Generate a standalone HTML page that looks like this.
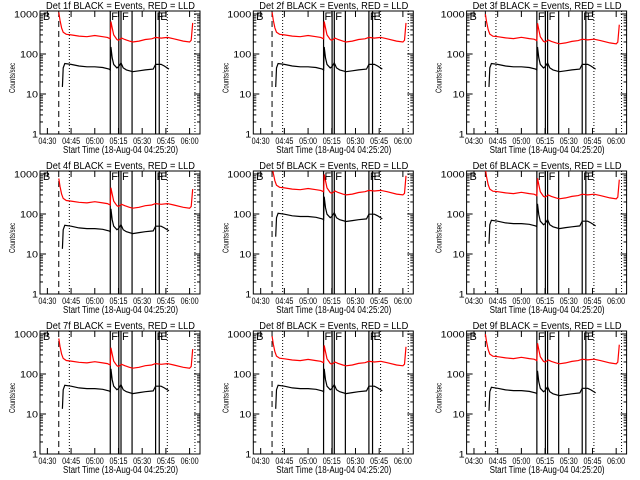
<!DOCTYPE html>
<html><head><meta charset="utf-8"><style>
html,body{margin:0;padding:0;background:#fff;width:640px;height:480px;overflow:hidden}
svg text{font-family:"Liberation Sans",sans-serif;fill:#000}
</style></head><body>
<svg id="root" width="640" height="480" xmlns="http://www.w3.org/2000/svg"></svg>
<script>
// Data (minutes after 04:00, counts/sec)
const detectors = ["1f","2f","3f","4f","5f","6f","7f","8f","9f"];
const redScale = [1.0,1.0,0.9,0.7,1.5,1.2,0.7,0.8,0.9];
const blackScale = [1.0,1.0,1.0,0.9,1.8,1.2,0.9,0.9,0.8];
const redTimes = [37.2,38,39,40,42,45,50,55,60,65,68,69.8,70.2,71,72,74,75,77,79,82,84,88,92,96,98.5,102,106,110,116,120,121,122];
const redValues = [1100,700,450,350,310,300,280,270,290,270,260,240,650,450,300,230,220,250,230,210,200,210,230,240,260,250,260,240,210,200,220,600];
const blackTimes = [39.5,40,41,45,50,55,60,65,69,69.8,70.2,71,72,74,75,76.6,78,80,84,88,92,97,98.5,102,104,107];
const blackValues = [15,45,58,55,50,48,48,46,42,40,150,80,55,45,48,60,45,40,36,38,40,42,55,55,50,42];
const solidLines = [69.8,75.2,76.6,83.6,98.5,100.8];
const dashedLines = [37.2];
const dottedLines = [43.9,105.9,123.4];
const flagLabels = [["B",26.5],["F",69.8],["F",76.6],["F",98.5],["E",100.8]];
const timeTicks = [30,45,60,75,90,105,120];
const timeTickLabels = ["04:30","04:45","05:00","05:15","05:30","05:45","06:00"];
const yTicks = [1,10,100,1000];
const yTickLabels = ["1","10","100","1000"];

const NS="http://www.w3.org/2000/svg";
const root=document.getElementById('root');
function mk(tag,attrs,parent){const e=document.createElementNS(NS,tag);for(const k in attrs)e.setAttribute(k,attrs[k]);parent.appendChild(e);return e;}
const L=40,R=200,T=11,B=134;
function xs(m){return L+(m-25.33)*1.58;}
function ys(v){return B-Math.log10(v)*40;}

detectors.forEach((d,i)=>{
  const ox=(i%3)*213.3, oy=Math.floor(i/3)*160;
  const g=mk('g',{transform:`translate(${ox},${oy})`},root);
  
  
  const cp=mk('clipPath',{id:'c'+i},g);mk('rect',{x:L,y:T,width:R-L,height:B-T},cp);
  const t=mk('text',{x:46,y:9,'font-size':'10',textLength:149,lengthAdjust:'spacingAndGlyphs'},g);t.textContent=`Det ${d} BLACK = Events, RED = LLD`;
  
  
  const fr=mk('rect',{x:L,y:T,width:R-L,height:B-T,fill:'none',stroke:'#000','stroke-width':1},g);
  
  
  yTicks.forEach((v,j)=>{
    const y=ys(v);
    mk('line',{x1:L,x2:L+6,y1:y,y2:y,stroke:'#000'},g);mk('line',{x1:R-6,x2:R,y1:y,y2:y,stroke:'#000'},g);
    const tl=mk('text',{x:L-2,y:y+3.5,'font-size':'9','text-anchor':'end',textLength:yTickLabels[j].length*6,lengthAdjust:'spacingAndGlyphs'},g);tl.textContent=yTickLabels[j];
    
    
    if(j<yTicks.length-1)for(let k=2;k<10;k++){const yy=ys(v*k);mk('line',{x1:L,x2:L+3,y1:yy,y2:yy,stroke:'#000'},g);mk('line',{x1:R-3,x2:R,y1:yy,y2:yy,stroke:'#000'},g);}
  });
  timeTicks.forEach((m,j)=>{
    const x=xs(m);
    mk('line',{x1:x,x2:x,y1:B,y2:B-6,stroke:'#000'},g);mk('line',{x1:x,x2:x,y1:T,y2:T+6,stroke:'#000'},g);
    const tl=mk('text',{x:x-9,y:B+10,'font-size':'9',textLength:18,lengthAdjust:'spacingAndGlyphs'},g);tl.textContent=timeTickLabels[j];
    
    
  });
  const yt=mk('text',{x:-30,y:0,'font-size':'8.5',textLength:30,lengthAdjust:'spacingAndGlyphs',transform:'translate(15,63) rotate(-90)'},g);yt.textContent='Counts/sec';
  
  
  const xt=mk('text',{x:63,y:153,'font-size':'10',textLength:115,lengthAdjust:'spacingAndGlyphs'},g);xt.textContent='Start Time (18-Aug-04 04:25:20)';
  
  
  const inner=mk('g',{'clip-path':`url(#c${i})`},g);
  solidLines.forEach(m=>{const l=mk('line',{x1:xs(m),x2:xs(m),y1:T,y2:B,stroke:'#000','stroke-width':1.2},inner);});
  dashedLines.forEach(m=>{const l=mk('line',{x1:xs(m),x2:xs(m),y1:T,y2:B,stroke:'#000','stroke-dasharray':'6,4'},inner);});
  dottedLines.forEach(m=>{const l=mk('line',{x1:xs(m),x2:xs(m),y1:T,y2:B,stroke:'#000','stroke-dasharray':'1,2'},inner);});
  const rp=redTimes.map((m,k)=>`${xs(m).toFixed(1)},${ys(redValues[k]*redScale[i]).toFixed(1)}`).join(' ');
  const red=mk('polyline',{points:rp,fill:'none',stroke:'#ff0000','stroke-width':1.2},inner);
  
  
  const bp=blackTimes.map((m,k)=>`${xs(m).toFixed(1)},${ys(blackValues[k]*blackScale[i]).toFixed(1)}`).join(' ');
  const blk=mk('polyline',{points:bp,fill:'none',stroke:'#000','stroke-width':1.2},inner);
  
  
  flagLabels.forEach(f=>{const ft=mk('text',{x:xs(f[1])+1,y:T+9,'font-size':'11'},g);ft.textContent=f[0];});
});
</script>
</body></html>
